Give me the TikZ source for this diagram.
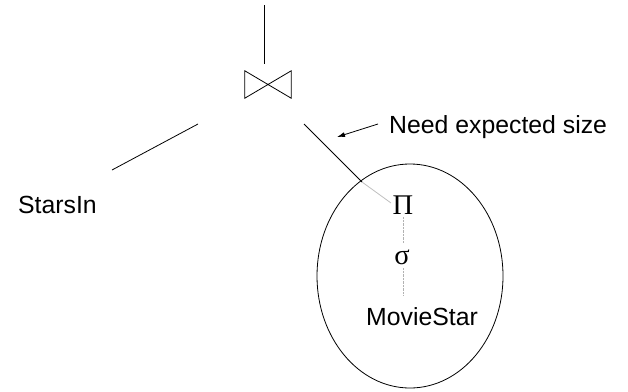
\documentclass[tikz,border=0pt]{standalone}
\usepackage{fontspec}
\setmainfont{Liberation Sans}
\newfontfamily\symfont{Liberation Serif}
\usetikzlibrary{arrows.meta,shapes.geometric}
\begin{document}
\begin{tikzpicture}[x=1pt,y=-1pt,
  edge/.style={line width=0.8pt},
  faint/.style={gray!50,line width=0.8pt},
  dotline/.style={gray!60,line width=0.8pt,dash pattern=on 0.8pt off 0.6pt},
  lbl/.style={font=\fontsize{24.8}{28}\selectfont,inner sep=0pt,anchor=base west},
  op/.style={font=\symfont\fontsize{28.5}{32}\selectfont,inner sep=0pt,anchor=base}]
\useasboundingbox (0,0) rectangle (628,391);
% join operator (bowtie)
\node[minimum width=46pt,minimum height=27pt,inner sep=0pt] (join) at (268,84.5) {};
\draw[edge,line join=miter] (join.north west) -- (join.south east) -- (join.north east) -- (join.south west) -- cycle;
% free ends of the tree edges
\coordinate (top) at (264.5,5);
\coordinate (jtop) at (264.5,64);
\coordinate (jleft) at (198,124);
\coordinate (lend) at (112,170);
\coordinate (jright) at (304,124);
\coordinate (rmid) at (362,182);
\coordinate (pin) at (391,203);
% leaves and the subexpression
\node[lbl] (stars) at (18,213) {StarsIn};
\node[draw,edge,ellipse,inner sep=0pt,minimum width=186pt,minimum height=224pt] (sub) at (410,276) {};
\node[op] (pi) at (403,214) {Π};
\node[op] (sigma) at (402,264) {σ};
\node[lbl] (movie) at (366,325) {MovieStar};
\node[lbl] (need) at (389,133) {Need expected size};
\coordinate (arrtail) at (378,124);
\coordinate (arrtip) at (337,137);
% edges
\draw[edge] (top) -- (jtop);
\draw[edge] (jleft) -- (lend);
\draw[edge] (jright) -- (rmid);
\draw[faint] (rmid) -- (pin);
\draw[dotline] (403,217) -- (403,243);
\draw[dotline] (403,268) -- (403,295);
\draw[edge,-{Latex[length=8pt,width=5pt]}] (arrtail) -- (arrtip);
\end{tikzpicture}
\end{document}
